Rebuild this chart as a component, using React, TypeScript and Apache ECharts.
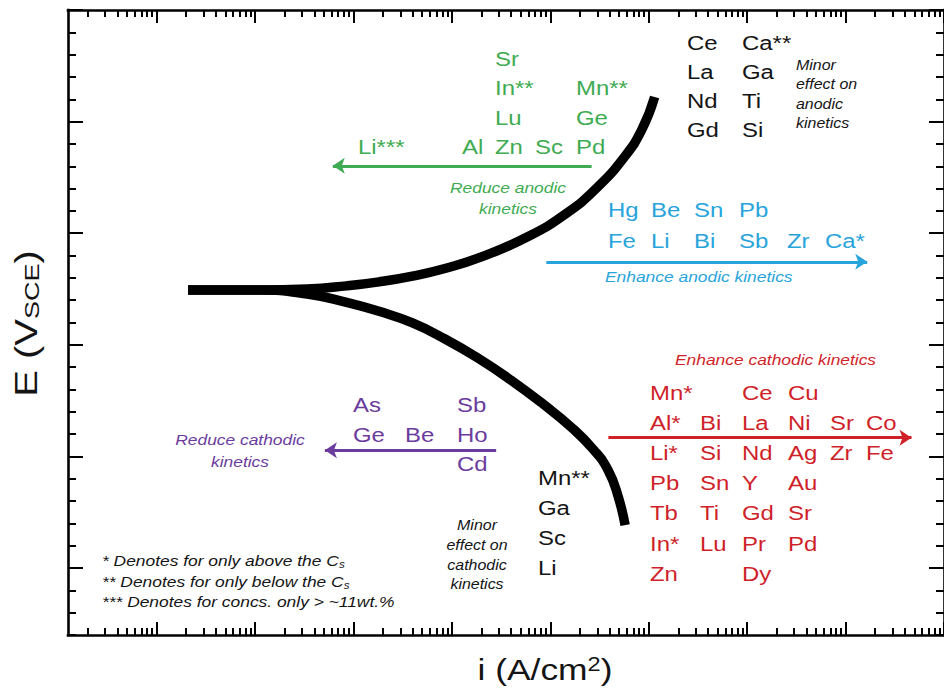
import { useEffect, useRef } from 'react';
import * as echarts from 'echarts';

const FONT = 'Liberation Sans, Arial, Helvetica, sans-serif';

// Axis extents: log10 of current density (A/cm²) and potential (V vs SCE)
const logIRange = [-9.9, -1];
const eRange = [-1.4, 0];
const decadeTicks = [-9, -8, -7, -6, -5, -4, -3, -2, -1];
const minorDecades = [-10, -9, -8, -7, -6, -5, -4, -3, -2];
const minorMultipliers = [2, 3, 4, 5, 6, 7, 8, 9];
const potentialMajorTicks = [0, -0.25, -0.5, -0.75, -1.0, -1.25];
const potentialMinorStep = 0.05;

// Polarisation branches, [log10 i, E]
const anodicBranch: [number, number][] = [
  [-8.68, -0.627], [-7.97, -0.627], [-7.47, -0.625], [-7.07, -0.618], [-6.74, -0.609],
  [-6.40, -0.596], [-6.07, -0.579], [-5.70, -0.553], [-5.23, -0.508], [-4.84, -0.456],
  [-4.53, -0.399], [-4.25, -0.330], [-4.07, -0.268], [-3.94, -0.195],
];
const cathodicBranch: [number, number][] = [
  [-8.68, -0.627], [-7.97, -0.627], [-7.47, -0.636], [-7.07, -0.655], [-6.74, -0.675],
  [-6.40, -0.701], [-6.07, -0.737], [-5.74, -0.779], [-5.40, -0.829], [-5.06, -0.885],
  [-4.79, -0.934], [-4.56, -0.985], [-4.41, -1.032], [-4.31, -1.090], [-4.24, -1.154],
];

// Direction arrows, [start, end] in [log10 i, E]
const reduceAnodicArrow: [number, number][] = [[-4.58, -0.349], [-7.21, -0.349]];
const enhanceAnodicArrow: [number, number][] = [[-5.04, -0.564], [-1.78, -0.564]];
const enhanceCathodicArrow: [number, number][] = [[-4.41, -0.958], [-1.33, -0.958]];
const reduceCathodicArrow: [number, number][] = [[-5.55, -0.986], [-7.29, -0.986]];

// Alloying elements, laid out in rows
const reduceAnodicRows = [
  ['', '', 'Sr', '', ''],
  ['', '', 'In**', '', 'Mn**'],
  ['', '', 'Lu', '', 'Ge'],
  ['Li***', 'Al', 'Zn', 'Sc', 'Pd'],
];
const minorAnodicRows = [
  ['Ce', 'Ca**'],
  ['La', 'Ga'],
  ['Nd', 'Ti'],
  ['Gd', 'Si'],
];
const enhanceAnodicRows = [
  ['Hg', 'Be', 'Sn', 'Pb', '', ''],
  ['Fe', 'Li', 'Bi', 'Sb', 'Zr', 'Ca*'],
];
const enhanceCathodicRows = [
  ['Mn*', '', 'Ce', 'Cu', '', ''],
  ['Al*', 'Bi', 'La', 'Ni', 'Sr', 'Co'],
  ['Li*', 'Si', 'Nd', 'Ag', 'Zr', 'Fe'],
  ['Pb', 'Sn', 'Y', 'Au', '', ''],
  ['Tb', 'Ti', 'Gd', 'Sr', '', ''],
  ['In*', 'Lu', 'Pr', 'Pd', '', ''],
  ['Zn', '', 'Dy', '', '', ''],
];
const reduceCathodicRows = [
  ['As', '', 'Sb'],
  ['Ge', 'Be', 'Ho'],
  ['', '', 'Cd'],
];
const minorCathodicRows = [['Mn**'], ['Ga'], ['Sc'], ['Li']];

const reduceAnodicNote = ['Reduce anodic', 'kinetics'];
const enhanceAnodicNote = ['Enhance anodic kinetics'];
const enhanceCathodicNote = ['Enhance cathodic kinetics'];
const reduceCathodicNote = ['Reduce cathodic', 'kinetics'];
const minorAnodicNote = ['Minor', 'effect on', 'anodic', 'kinetics'];
const minorCathodicNote = ['Minor', 'effect on', 'cathodic', 'kinetics'];
const footnotes = [
  { mark: '* Denotes for only above the C', sub: 's' },
  { mark: '** Denotes for only below the C', sub: 's' },
  { mark: '*** Denotes for concs. only > ~11wt.%', sub: '' },
];

// Colours
const GREEN = '#3fab52';
const BLUE = '#28a4dc';
const RED = '#cf1f29';
const PURPLE = '#6b3c9d';
const INK = '#141414';

// Text metrics
const LABEL_SIZE = 21;
const LABEL_SCALE = 1.14;
const NOTE_SIZE = 15;
const NOTE_SCALE = 1.16;
const MINOR_SIZE = 14;
const MINOR_SCALE = 1.14;

type TextOpts = {
  color: string;
  fontSize: number;
  scaleX: number;
  italic?: boolean;
  align?: 'left' | 'center' | 'right';
};

function textEl(text: string, x: number, baseline: number, o: TextOpts) {
  const align = o.align ?? 'left';
  return {
    type: 'text',
    x,
    y: baseline - 0.35 * o.fontSize,
    scaleX: o.scaleX,
    silent: true,
    z: 20,
    style: {
      text,
      fill: o.color,
      fontSize: o.fontSize,
      fontFamily: FONT,
      fontStyle: o.italic ? 'italic' : 'normal',
      align,
      textAlign: align,
      verticalAlign: 'middle',
      textVerticalAlign: 'middle',
    },
  };
}

function gridLabels(rows: string[][], cols: number[], baselines: number[], color: string) {
  const els: any[] = [];
  rows.forEach((row, r) =>
    row.forEach((name, c) => {
      if (name) {
        els.push(textEl(name, cols[c], baselines[r], { color, fontSize: LABEL_SIZE, scaleX: LABEL_SCALE }));
      }
    })
  );
  return els;
}

function noteLines(lines: string[], x: number, baselines: number[], o: TextOpts) {
  return lines.map((line, i) => textEl(line, x, baselines[i], { ...o, italic: true }));
}

const frameLine = { show: true, onZero: false, lineStyle: { color: '#000', width: 2.6, cap: 'square' } };

function xAxisDef(position: 'top' | 'bottom', ticks: number[], length: number, withLine: boolean) {
  return {
    type: 'value',
    position,
    min: logIRange[0],
    max: logIRange[1],
    axisLine: withLine ? frameLine : { show: false, onZero: false },
    axisTick: { show: true, inside: true, length, customValues: ticks, lineStyle: { color: '#000', width: 2 } },
    axisLabel: { show: false },
    splitLine: { show: false },
  };
}

function yAxisDef(position: 'left' | 'right', major: boolean) {
  return {
    type: 'value',
    position,
    min: eRange[0],
    max: eRange[1],
    ...(major ? {} : { interval: potentialMinorStep }),
    axisLine: major ? frameLine : { show: false, onZero: false },
    axisTick: {
      show: true,
      inside: true,
      length: major ? 15 : 8,
      ...(major ? { customValues: potentialMajorTicks } : {}),
      lineStyle: { color: '#000', width: 2 },
    },
    axisLabel: { show: false },
    splitLine: { show: false },
  };
}

export default function App() {
  const ref = useRef<HTMLDivElement>(null);

  useEffect(() => {
    if (!ref.current) return;
    const chart = echarts.init(ref.current, null, { renderer: 'svg' });

    const xMinorTicks = minorDecades
      .flatMap((d) => minorMultipliers.map((m) => d + Math.log10(m)))
      .filter((v) => v > logIRange[0] && v < logIRange[1]);

    const curveStyle = {
      type: 'line',
      showSymbol: false,
      symbol: 'none',
      smooth: 0.5,
      silent: true,
      lineStyle: { color: '#000', width: 9.5, cap: 'butt', join: 'round' },
      z: 5,
    };

    const arrowItem = (coords: [number, number][], color: string) => ({
      coords,
      lineStyle: { color, width: 3 },
    });

    const graphics: any[] = [
      ...gridLabels(reduceAnodicRows, [358, 462, 495, 535, 576], [66, 95, 125, 154], GREEN),
      ...gridLabels(minorAnodicRows, [687, 742], [50, 79, 108, 137], INK),
      ...gridLabels(enhanceAnodicRows, [608, 651, 694, 739, 787, 825], [217, 248], BLUE),
      ...gridLabels(enhanceCathodicRows, [650, 700, 742, 788, 830, 866], [400, 430, 460, 490, 520, 551, 581], RED),
      ...gridLabels(reduceCathodicRows, [353, 405, 457], [412, 442, 471], PURPLE),
      ...gridLabels(minorCathodicRows, [538], [485, 515, 545, 575], INK),
      ...noteLines(reduceAnodicNote, 508, [193, 214], { color: GREEN, fontSize: NOTE_SIZE, scaleX: NOTE_SCALE, align: 'center' }),
      ...noteLines(enhanceAnodicNote, 605, [282], { color: BLUE, fontSize: NOTE_SIZE, scaleX: NOTE_SCALE }),
      ...noteLines(enhanceCathodicNote, 675, [365], { color: RED, fontSize: NOTE_SIZE, scaleX: NOTE_SCALE }),
      ...noteLines(reduceCathodicNote, 240, [445, 467], { color: PURPLE, fontSize: NOTE_SIZE, scaleX: NOTE_SCALE, align: 'center' }),
      ...noteLines(minorAnodicNote, 796, [70, 89, 109, 128], { color: INK, fontSize: MINOR_SIZE, scaleX: MINOR_SCALE }),
      ...noteLines(minorCathodicNote, 477, [530, 550, 570, 589], { color: INK, fontSize: MINOR_SIZE, scaleX: MINOR_SCALE, align: 'center' }),
      ...footnotes.map((f, i) => ({
        type: 'text',
        x: 102,
        y: [566, 587, 607][i] - 0.35 * NOTE_SIZE,
        scaleX: NOTE_SCALE,
        silent: true,
        z: 20,
        style: {
          text: f.sub ? `{t|${f.mark}}{s|${f.sub}}` : `{t|${f.mark}}`,
          align: 'left',
          textAlign: 'left',
          verticalAlign: 'middle',
          textVerticalAlign: 'middle',
          rich: {
            t: { fontSize: NOTE_SIZE, lineHeight: 18, fontFamily: FONT, fontStyle: 'italic', fill: INK, color: INK },
            s: { fontSize: 10, lineHeight: 4, verticalAlign: 'bottom', fontFamily: FONT, fontStyle: 'italic', fill: INK, color: INK },
          },
        },
      })),
      // axis titles
      {
        type: 'text',
        x: 545,
        y: 669.5,
        scaleX: 1.18,
        silent: true,
        style: {
          text: '{a|i (A/cm}{b|2}{a|)}',
          align: 'center',
          textAlign: 'center',
          verticalAlign: 'middle',
          textVerticalAlign: 'middle',
          rich: {
            a: { fontSize: 30, lineHeight: 30, fontFamily: FONT, fill: INK, color: INK },
            b: { fontSize: 20, lineHeight: 12, verticalAlign: 'top', fontFamily: FONT, fill: INK, color: INK },
          },
        },
      },
      {
        type: 'text',
        x: 26.5,
        y: 323.5,
        rotation: Math.PI / 2,
        scaleX: 1.29,
        silent: true,
        style: {
          text: '{a|E (V}{b|SCE}{a|)}',
          align: 'center',
          textAlign: 'center',
          verticalAlign: 'middle',
          textVerticalAlign: 'middle',
          rich: {
            a: { fontSize: 31, lineHeight: 31, fontFamily: FONT, fill: INK, color: INK },
            b: { fontSize: 21, lineHeight: 4, verticalAlign: 'bottom', fontFamily: FONT, fill: INK, color: INK },
          },
        },
      },
    ];

    chart.setOption({
      animation: false,
      backgroundColor: '#fff',
      grid: { left: 68, top: 10, width: 887, height: 625, containLabel: false },
      xAxis: [
        xAxisDef('bottom', decadeTicks, 13, true),
        xAxisDef('bottom', xMinorTicks, 7, false),
        xAxisDef('top', decadeTicks, 13, true),
        xAxisDef('top', xMinorTicks, 7, false),
      ],
      yAxis: [yAxisDef('left', true), yAxisDef('left', false), yAxisDef('right', true), yAxisDef('right', false)],
      series: [
        { ...curveStyle, name: 'Anodic', data: anodicBranch },
        { ...curveStyle, name: 'Cathodic', data: cathodicBranch },
        {
          type: 'lines',
          coordinateSystem: 'cartesian2d',
          silent: true,
          symbol: ['none', 'arrow'],
          symbolSize: 12,
          lineStyle: { width: 3, opacity: 1, curveness: 0 },
          z: 6,
          data: [
            arrowItem(reduceAnodicArrow, GREEN),
            arrowItem(enhanceAnodicArrow, BLUE),
            arrowItem(enhanceCathodicArrow, RED),
            arrowItem(reduceCathodicArrow, PURPLE),
          ],
        },
      ],
      graphic: graphics,
    });

    return () => chart.dispose();
  }, []);

  return (
    <div
      ref={ref}
      style={{ position: 'absolute', left: 0, top: 0, width: 944, height: 691, background: '#fff' }}
    />
  );
}
